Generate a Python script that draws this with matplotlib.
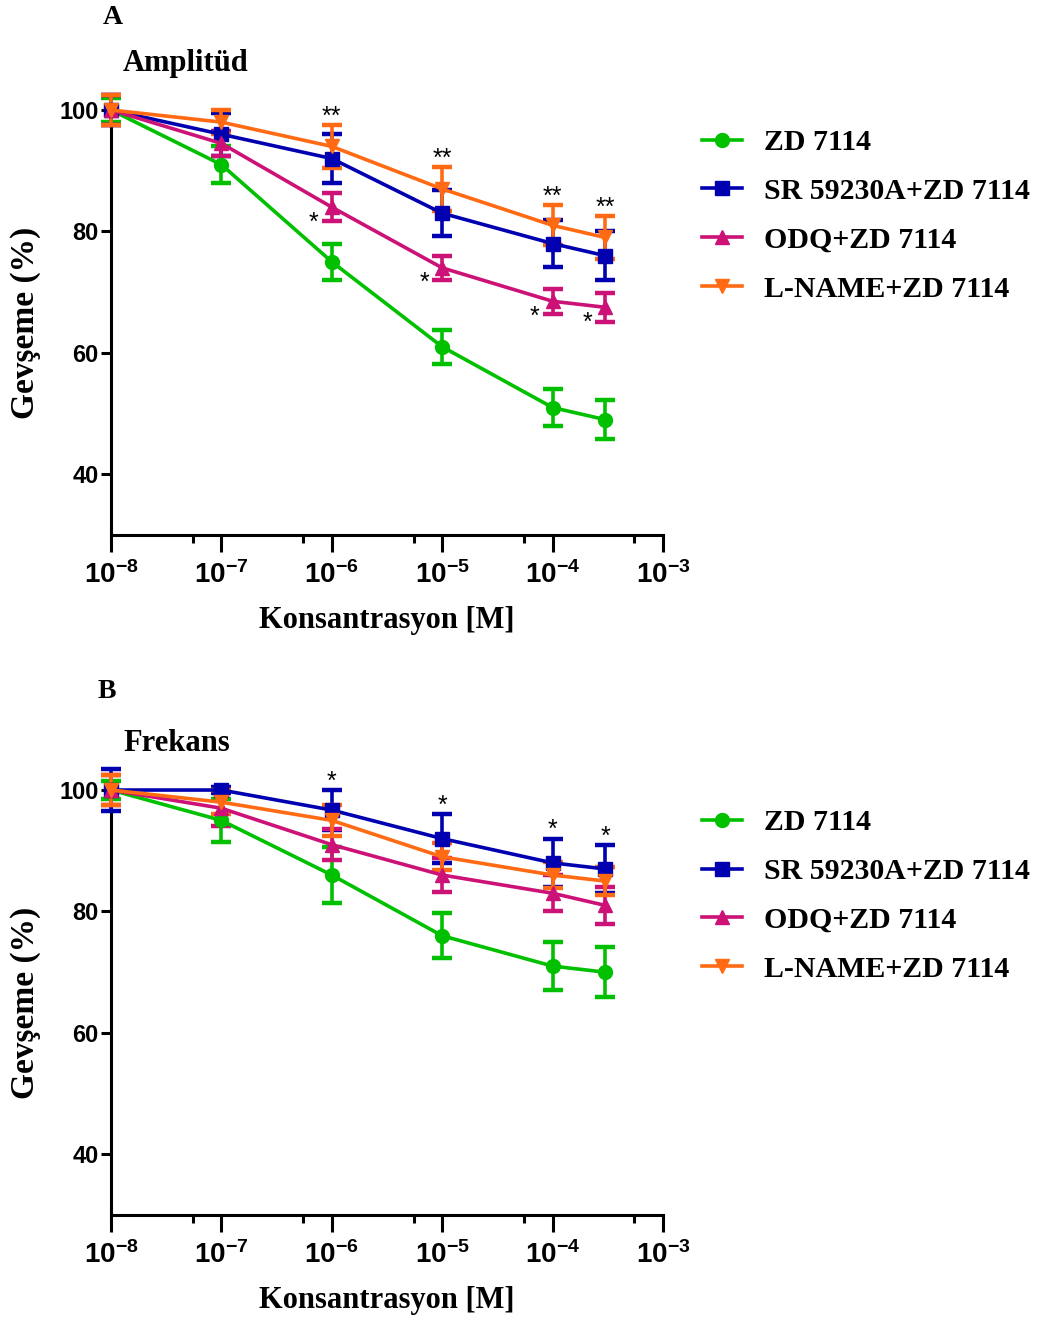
import numpy as np
import matplotlib
matplotlib.use('Agg')
import matplotlib.pyplot as plt
from matplotlib.lines import Line2D
from matplotlib.ticker import FixedLocator, NullFormatter

plt.rcParams['font.family'] = ['Liberation Serif', 'DejaVu Serif']
plt.rcParams['mathtext.fontset'] = 'custom'
plt.rcParams['mathtext.rm'] = 'Liberation Sans:bold'
plt.rcParams['mathtext.default'] = 'rm'

# concentrations (M)
conc = [1e-8, 1e-7, 1e-6, 1e-5, 1e-4, 3e-4]
labels = ['ZD 7114', 'SR 59230A+ZD 7114', 'ODQ+ZD 7114', 'L-NAME+ZD 7114']
colors = ['#00c000', '#0000b0', '#cc1177', '#ff6a13']
markers = ['o', 's', '^', 'v']

# A - Amplitüd
amp_zd = [100, 91, 75, 61, 51, 49]
amp_zd_err = [2, 3, 3, 2.8, 3, 3.2]
amp_sr = [100, 96, 92, 83, 78, 76]
amp_sr_err = [2.5, 3.5, 4, 3.8, 3.8, 4]
amp_odq = [100, 94.5, 84, 74, 68.5, 67.5]
amp_odq_err = [2.5, 2, 2.3, 2, 2.1, 2.4]
amp_lname = [100, 98, 94, 87, 81, 79]
amp_lname_err = [2.5, 2, 3.5, 3.6, 3.3, 3.5]
amp_star_top = ['', '', '**', '**', '**', '**']
amp_star_odq = ['', '', '*', '*', '*', '*']

# B - Frekans
frq_zd = [100, 95, 86, 76, 71, 70]
frq_zd_err = [1.5, 3.5, 4.6, 3.7, 3.9, 4.1]
frq_sr = [100, 100, 96.7, 92, 88, 87]
frq_sr_err = [3.5, 0.5, 3.3, 4, 4, 3.9]
frq_odq = [100, 97, 91, 86, 83, 81]
frq_odq_err = [2.5, 3, 2.5, 2.8, 3, 3]
frq_lname = [100, 98, 95, 89, 86, 85]
frq_lname_err = [2.5, 2, 2.5, 2.2, 2.2, 2.3]
frq_star_sr = ['', '', '*', '*', '*', '*']

decades = [1e-8, 1e-7, 1e-6, 1e-5, 1e-4, 1e-3]
minor = [5.5 * d for d in decades[:-1]]


def draw_panel(ax, series, errs):
    for vals, err, c, m in zip(series, errs, colors, markers):
        ax.errorbar(conc, vals, yerr=err, color=c, marker=m, ms=10, lw=2.6,
                    elinewidth=2.6, capsize=7, capthick=3.2,
                    clip_on=False, zorder=3)
    ax.set_xscale('log')
    ax.set_xlim(1e-8, 1e-3)
    ax.set_ylim(30, 100)
    ax.xaxis.set_major_locator(FixedLocator(decades))
    ax.xaxis.set_minor_locator(FixedLocator(minor))
    ax.xaxis.set_minor_formatter(NullFormatter())
    ax.set_xticklabels([r'$10^{-%d}$' % (-int(round(np.log10(d)))) for d in decades])
    ax.set_yticks([40, 60, 80, 100])
    for s in ['top', 'right']:
        ax.spines[s].set_visible(False)
    for s in ['left', 'bottom']:
        ax.spines[s].set_linewidth(2.2)
    ax.tick_params(axis='y', which='major', width=2.2, length=7, pad=2,
                   labelsize=17)
    ax.tick_params(axis='x', which='major', width=2.2, length=12, pad=7,
                   labelsize=20)
    ax.tick_params(axis='x', which='minor', width=2.2, length=6)
    for t in ax.get_yticklabels():
        t.set_family('Liberation Sans')
        t.set_weight('bold')
    ax.set_xlabel('Konsantrasyon [M]', fontsize=22, fontweight='bold', va='center')
    ax.xaxis.set_label_coords(0.5, -0.2)
    ax.set_ylabel('Gevşeme (%)', fontsize=24, fontweight='bold', va='center')
    ax.yaxis.set_label_coords(-0.155, 0.5)
    handles = [Line2D([], [], color=c, marker=m, ms=10, lw=2.6)
               for c, m in zip(colors, markers)]
    ax.legend(handles, labels, loc='upper left', bbox_to_anchor=(1.07, 0.955),
              frameon=False, borderpad=0, borderaxespad=0, handlelength=1.35,
              handletextpad=0.75, labelspacing=0.73,
              prop={'size': 21.5, 'weight': 'bold'})


def stars(ax, vals, err, marks, dx, dy, above):
    for x, v, e, s in zip(conc, vals, err, marks):
        if s:
            y = v + e if above else v
            ax.annotate(s, xy=(x, y), xytext=(dx, dy), textcoords='offset points',
                        ha='center', va='baseline', fontsize=18,
                        family='Liberation Sans', zorder=5)


fig = plt.figure(figsize=(10.56, 13.22), dpi=100)
axA = fig.add_axes([0.1051, 0.5953, 0.5227, 0.3215])
axB = fig.add_axes([0.1051, 0.0809, 0.5227, 0.3215])

draw_panel(axA, [amp_zd, amp_sr, amp_odq, amp_lname],
           [amp_zd_err, amp_sr_err, amp_odq_err, amp_lname_err])
stars(axA, amp_lname, amp_lname_err, amp_star_top, 0, 1, True)
stars(axA, amp_odq, amp_odq_err, amp_star_odq, -13, -16, False)

draw_panel(axB, [frq_zd, frq_sr, frq_odq, frq_lname],
           [frq_zd_err, frq_sr_err, frq_odq_err, frq_lname_err])
stars(axB, frq_sr, frq_sr_err, frq_star_sr, 0, 1, True)

fig.text(113 / 1056, 1 - 18 / 1322, 'A', fontsize=20, fontweight='bold',
         ha='center', va='center')
fig.text(123 / 1056, 1 - 63 / 1322, 'Amplitüd', fontsize=22, fontweight='bold',
         ha='left', va='center')
fig.text(107 / 1056, 1 - 692 / 1322, 'B', fontsize=20, fontweight='bold',
         ha='center', va='center')
fig.text(123 / 1056, 1 - 743 / 1322, 'Frekans', fontsize=22, fontweight='bold',
         ha='left', va='center')

fig.savefig('out.png', dpi=100)
